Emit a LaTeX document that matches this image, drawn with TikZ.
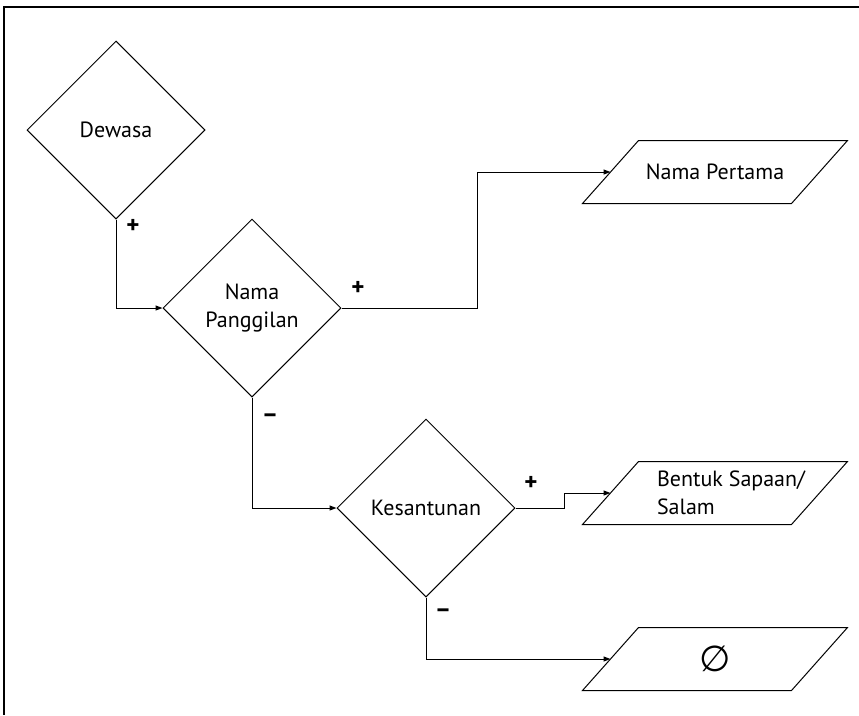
\documentclass[tikz,border=0pt]{standalone}
\usepackage{fontspec}
\setmainfont{PT Sans}
\newfontfamily\symfont{DejaVu Sans}
\usetikzlibrary{shapes.geometric,arrows.meta}
\begin{document}
\begin{tikzpicture}[x=1pt,y=-1pt,line width=1pt,
	every node/.style={font=\fontsize{22}{28}\selectfont},
	decision/.style={diamond,draw,minimum width=178pt,minimum height=178pt,inner sep=0pt,align=center},
	output/.style={rectangle,minimum width=208pt,minimum height=62pt,inner sep=0pt},
	sign/.style={font=\fontsize{25}{25}\selectfont\bfseries},
	>={Triangle[length=7pt,width=5pt]}]
	\useasboundingbox (0,0) rectangle (859,715);
	\draw[line width=1.5pt] (859,7)--(4,7)--(4,715);
	\node[decision] (dewasa) at (116,130){Dewasa};
	\node[decision] (panggilan) at (252,308){Nama\\Panggilan};
	\node[decision] (santun) at (426,508){Kesantunan};
	\node[output] (pertama) at (715,172){Nama Pertama};
	\node[output,align=left] (sapaan) at (715,493){\hspace*{32pt}Bentuk Sapaan/\\\hspace*{32pt}Salam};
	\node[output] (kosong) at (715,659){\symfont\fontsize{36}{36}\selectfont ∅};
	\foreach \n in {pertama,sapaan,kosong}
		\draw ([xshift=28pt]\n.north west)--([xshift=28pt]\n.north east)
			--([xshift=-28pt]\n.south east)--([xshift=-28pt]\n.south west)--cycle;
	\draw[->] (dewasa.south)|-(panggilan.west);
	\draw[->] (panggilan.east)--++(136,0)|-(pertama.west);
	\draw[->] (panggilan.south)|-(santun.west);
	\draw[->] (santun.east)--++(49,0)|-(sapaan.west);
	\draw[->] (santun.south)|-(kosong.west);
	\node[sign] (p1) at (133,226){+};
	\node[sign] (p2) at (358,288){+};
	\node[sign] (m1) at (270,418){--};
	\node[sign] (p3) at (531,483){+};
	\node[sign] (m2) at (443,613){--};
\end{tikzpicture}
\end{document}
